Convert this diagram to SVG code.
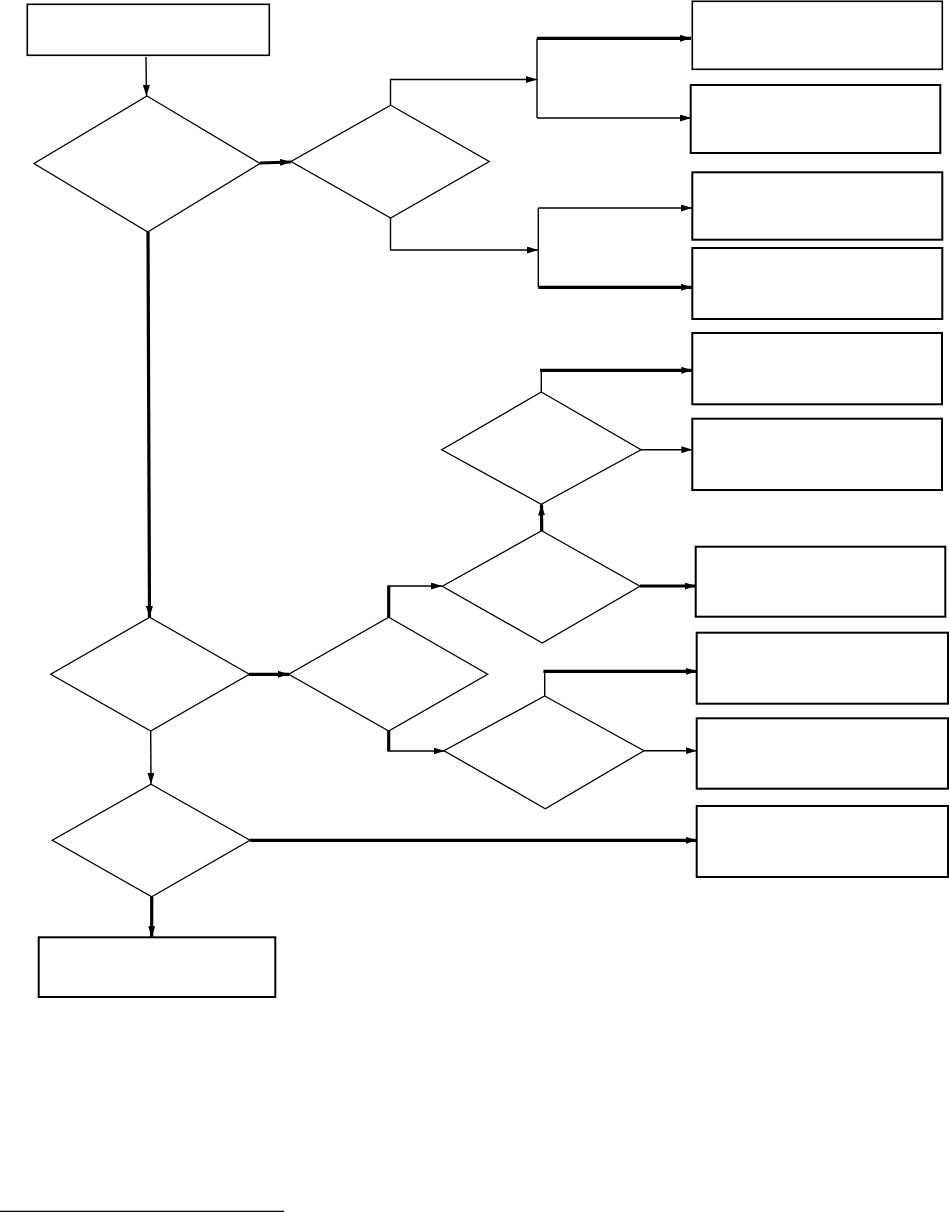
<svg xmlns="http://www.w3.org/2000/svg" width="949" height="1212" viewBox="0 0 949 1212">
<style>
.box{fill:#fff;stroke:#000;stroke-width:1.6}
.box2{fill:#fff;stroke:#000;stroke-width:2}
.dia{fill:#fff;stroke:#000;stroke-width:1.3;stroke-linejoin:miter}
.c{fill:none;stroke:#000;stroke-width:1.4}
.t{fill:none;stroke:#000;stroke-width:3.2}
</style>
<defs>
<marker id="ah" markerUnits="userSpaceOnUse" markerWidth="11" markerHeight="7" refX="11" refY="3.5" orient="auto">
<path d="M0,0 L11,3.5 L0,7 z" fill="#000"/>
</marker>
</defs>
<rect width="949" height="1212" fill="#fff"/>
<g id="connectors">
<line class="c" x1="146" y1="57" x2="146.5" y2="96" marker-end="url(#ah)"/>
<line class="t" x1="260" y1="163" x2="291" y2="162" marker-end="url(#ah)"/>
<polyline class="c" points="390.5,105 390.5,79.5 537,79.5" marker-end="url(#ah)"/>
<line class="c" x1="537" y1="38.3" x2="537" y2="118"/>
<line class="t" x1="537" y1="38.3" x2="691" y2="38.3" marker-end="url(#ah)"/>
<line class="c" x1="537" y1="118" x2="691" y2="118" marker-end="url(#ah)"/>
<polyline class="c" points="390.5,218 390.5,250 538,250" marker-end="url(#ah)"/>
<line class="c" x1="538.3" y1="208" x2="538.3" y2="287.3"/>
<line class="c" x1="538.3" y1="208" x2="692" y2="208" marker-end="url(#ah)"/>
<line class="t" x1="538.3" y1="287.3" x2="692" y2="287.3" marker-end="url(#ah)"/>
<line class="t" x1="148" y1="232" x2="149.5" y2="617" marker-end="url(#ah)"/>
<line class="t" x1="249" y1="674.3" x2="289" y2="674.3" marker-end="url(#ah)"/>
<line class="t" x1="388.7" y1="617" x2="388.7" y2="586"/>
<line class="c" x1="387.5" y1="586" x2="442" y2="586" marker-end="url(#ah)"/>
<line class="t" x1="388.7" y1="731" x2="388.7" y2="751"/>
<line class="c" x1="387.5" y1="751" x2="444.5" y2="751" marker-end="url(#ah)"/>
<line class="t" x1="541.7" y1="531" x2="541.5" y2="504.5" marker-end="url(#ah)"/>
<line class="c" x1="541.3" y1="392" x2="541.3" y2="370.3"/>
<line class="t" x1="540" y1="370.3" x2="692.3" y2="370.3" marker-end="url(#ah)"/>
<line class="c" x1="641" y1="449.7" x2="692.3" y2="449.7" marker-end="url(#ah)"/>
<line class="t" x1="640" y1="586" x2="695.7" y2="586" marker-end="url(#ah)"/>
<line class="c" x1="544.7" y1="696" x2="544.7" y2="671.3"/>
<line class="t" x1="543.4" y1="671.3" x2="696.7" y2="671.3" marker-end="url(#ah)"/>
<line class="c" x1="644" y1="750.7" x2="696.7" y2="750.7" marker-end="url(#ah)"/>
<line class="c" x1="150.7" y1="731" x2="151" y2="784" marker-end="url(#ah)"/>
<line class="t" x1="250" y1="840.3" x2="696.7" y2="840.3" marker-end="url(#ah)"/>
<line class="t" x1="151.7" y1="897" x2="151.7" y2="937.3" marker-end="url(#ah)"/>
</g>
<g id="start"><rect class="box" x="27.3" y="4.3" width="242" height="51"/></g>
<g id="d1"><polygon class="dia" points="147,96 260,163.5 147.7,232 34,163.5"/></g>
<g id="d2"><polygon class="dia" points="390.7,105.3 489.3,161.5 390.7,218 291,161.5"/></g>
<g id="boxA"><rect class="box" x="692.3" y="1.3" width="250" height="68"/></g>
<g id="boxB"><rect class="box2" x="690.7" y="85" width="249.6" height="68"/></g>
<g id="boxC"><rect class="box2" x="692.3" y="172.3" width="250" height="67.4"/></g>
<g id="boxD"><rect class="box2" x="692.3" y="248" width="250" height="71"/></g>
<g id="boxE"><rect class="box2" x="692.3" y="333" width="249.7" height="71.3"/></g>
<g id="boxF"><rect class="box2" x="692.3" y="418.7" width="249.7" height="71.3"/></g>
<g id="d3"><polygon class="dia" points="541.3,392 641,449.7 541.3,504.3 441.7,449.7"/></g>
<g id="d4"><polygon class="dia" points="541.7,530.7 640,586.3 542.3,643 442.3,586.3"/></g>
<g id="boxG"><rect class="box2" x="695.7" y="546.7" width="249.6" height="70"/></g>
<g id="d5"><polygon class="dia" points="388.7,617.3 487.7,674.3 388.7,731 288.7,674.3"/></g>
<g id="d6"><polygon class="dia" points="149.7,617.3 249.3,674.3 150.7,731 50.7,674.3"/></g>
<g id="d7"><polygon class="dia" points="544.7,696 644,750.7 545.3,808.7 444,750.7"/></g>
<g id="boxH"><rect class="box2" x="696.7" y="632.7" width="251.3" height="71"/></g>
<g id="boxI"><rect class="box2" x="696.7" y="718.3" width="251.3" height="70.4"/></g>
<g id="boxJ"><rect class="box2" x="696.7" y="806" width="251.3" height="71"/></g>
<g id="d8"><polygon class="dia" points="151,784.3 250,840.3 151.7,896.7 52.3,840.3"/></g>
<g id="end"><rect class="box2" x="38.7" y="937.3" width="236.6" height="59.7"/></g>
<line x1="0" y1="1211.3" x2="284" y2="1211.3" stroke="#000" stroke-width="1.3"/>
</svg>
